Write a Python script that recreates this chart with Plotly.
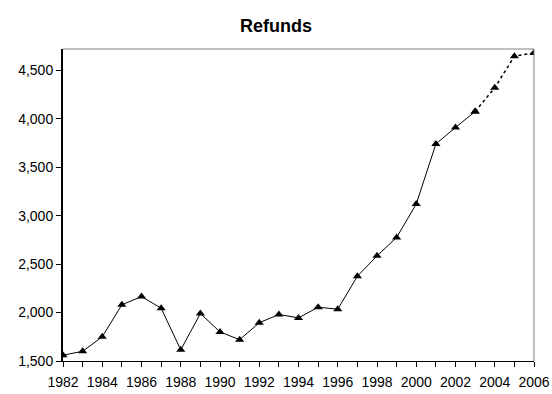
import plotly.graph_objects as go

# Annual refunds, 1982-2006; the last three years are projections
years = list(range(1982, 2007))
refunds = [1560, 1600, 1750, 2080, 2165, 2045, 1615, 1990, 1800, 1720,
           1895, 1980, 1945, 2055, 2035, 2375, 2585, 2775, 3120, 3740,
           3910, 4075, 4320, 4645, 4680]
last_actual = 2003
y_ticks = [1500, 2000, 2500, 3000, 3500, 4000, 4500]
x_labels = list(range(1982, 2007, 2))

split = years.index(last_actual) + 1
font = dict(family="Liberation Sans, Arial, sans-serif", color="black")

fig = go.Figure()
fig.add_trace(go.Scatter(
    x=years[:split], y=refunds[:split], mode="lines+markers",
    line=dict(color="black", width=1),
    marker=dict(symbol="triangle-up", size=8, color="black"),
    showlegend=False, hoverinfo="x+y"))
fig.add_trace(go.Scatter(
    x=years[split - 1:], y=refunds[split - 1:], mode="lines+markers",
    line=dict(color="black", width=1.5, dash="dot"),
    marker=dict(symbol="triangle-up", size=8, color="black"),
    showlegend=False, hoverinfo="x+y"))

fig.update_layout(
    width=552, height=394,
    margin=dict(l=63, r=18, t=49, b=33, autoexpand=False),
    paper_bgcolor="white", plot_bgcolor="white",
    title=dict(text="<b>Refunds</b>", x=0.5, xanchor="center",
               y=1 - 32 / 394, yanchor="bottom",
               font=dict(size=18, **font)),
    font=dict(size=14, **font),
    xaxis=dict(range=[1982, 2006], tickvals=x_labels, ticks="outside",
               ticklen=5, tickcolor="black", showline=True, linecolor="black",
               linewidth=1, showgrid=False, zeroline=False,
               ticklabelstandoff=3, automargin=False,
               minor=dict(dtick=1, tick0=1982, ticks="outside", ticklen=5,
                          tickcolor="black", showgrid=False),
               tickfont=dict(size=14, **font)),
    yaxis=dict(range=[1500, 4720], tickvals=y_ticks, tickformat=",",
               ticks="outside", ticklen=5, tickcolor="black", showline=True,
               linecolor="black", linewidth=2, showgrid=False, zeroline=False,
               automargin=False, tickfont=dict(size=14, **font)),
    shapes=[
        dict(type="line", xref="paper", yref="paper", x0=0, x1=1, y0=1, y1=1,
             line=dict(color="#808080", width=1)),
        dict(type="line", xref="paper", yref="paper", x0=1, x1=1, y0=0, y1=1,
             line=dict(color="#808080", width=1)),
    ],
)

fig.write_html("out.html")
